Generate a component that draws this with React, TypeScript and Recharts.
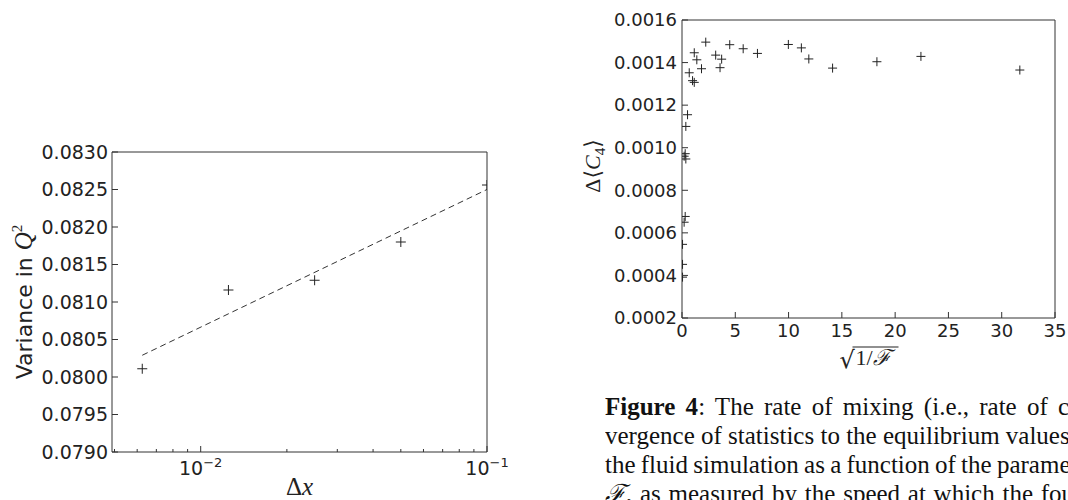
import type { ReactNode } from "react";
import { Scatter, ScatterChart, XAxis, YAxis } from "recharts";

/**
 * Two matplotlib-style panels side by side:
 * - left: variance in Q^2 against grid spacing (log x) with a dashed fit
 * - right: mixing rate against sqrt(1/F), plus the cropped Figure 4 caption
 * Frames are built from mirrored axes so all four sides get inward ticks.
 * Axes are 1px thick (Recharts skips axes of zero size).
 */

// ---- left panel ----
const gridSpacing = [0.00625, 0.0125, 0.025, 0.05, 0.1];
const varianceQ2 = [0.08011, 0.08116, 0.08129, 0.0818, 0.08256];
const fitSpacing = [0.00625, 0.1];
const fitVariance = [0.08029, 0.0825];
const spacingMajorTicks = [0.01, 0.1];
const spacingMinorTicks = [
  0.005, 0.006, 0.007, 0.008, 0.009, 0.02, 0.03, 0.04, 0.05, 0.06, 0.07, 0.08,
  0.09,
];
const varianceTicks = [
  0.079, 0.0795, 0.08, 0.0805, 0.081, 0.0815, 0.082, 0.0825, 0.083,
];

// ---- right panel ----
const sqrtInvF = [
  0.05, 0.05, 0.05, 0.2, 0.3, 0.2, 0.3, 0.36, 0.36, 0.52, 0.68, 0.99, 1.15,
  1.15, 1.39, 1.83, 2.23, 3.16, 3.57, 3.72, 4.48, 5.74, 7.08, 9.98, 11.2, 11.9,
  14.13, 18.29, 22.42, 31.7,
];
const mixingRate = [
  0.000392, 0.000452, 0.000546, 0.00065, 0.000677, 0.00096, 0.000972,
  0.000947, 0.0011, 0.001155, 0.001352, 0.001315, 0.001307, 0.001446,
  0.001413, 0.001371, 0.001496, 0.001435, 0.001376, 0.001416, 0.001484,
  0.001465, 0.001443, 0.001485, 0.001469, 0.001417, 0.001374, 0.001404,
  0.001429, 0.001365,
];
const sqrtInvFTicks = [0, 5, 10, 15, 20, 25, 30, 35];
const mixingRateTicks = [
  0.0002, 0.0004, 0.0006, 0.0008, 0.001, 0.0012, 0.0014, 0.0016,
];

const varianceData = gridSpacing.map((x, i) => ({ x, y: varianceQ2[i] }));
const fitData = fitSpacing.map((x, i) => ({ x, y: fitVariance[i] }));
const mixingData = sqrtInvF.map((x, i) => ({ x, y: mixingRate[i] }));
const spacingTicks = [...spacingMinorTicks, ...spacingMajorTicks].sort(
  (a, b) => a - b
);

const SANS = "'DejaVu Sans', sans-serif";
const SERIF = "'Liberation Serif', 'DejaVu Serif', serif";
const INK = "#222";
const SPINE = "#333";
const MAJOR = 6;
const MINOR = 3;

type TickProps = { x: number; y: number; payload: { value: number } };
type Side = "bottom" | "top" | "left" | "right";

// inward tick mark, optional label placed outside the frame
function tick(
  side: Side,
  len: (v: number) => number,
  label?: (x: number, y: number, v: number) => ReactNode
) {
  return ({ x, y, payload }: TickProps) => {
    const l = len(payload.value);
    const [x2, y2] =
      side === "bottom"
        ? [x, y - l]
        : side === "top"
        ? [x, y + l]
        : side === "left"
        ? [x + l, y]
        : [x - l, y];
    return (
      <g>
        <line x1={x} y1={y} x2={x2} y2={y2} stroke={SPINE} strokeWidth={1} />
        {label ? label(x, y, payload.value) : null}
      </g>
    );
  };
}

const isMajorSpacing = (v: number) => spacingMajorTicks.includes(v);
const spacingLen = (v: number) => (isMajorSpacing(v) ? MAJOR : MINOR);

const powerLabel = (x: number, y: number, v: number) =>
  isMajorSpacing(v) ? (
    <text x={x} y={y + 23} textAnchor="middle" fontFamily={SANS} fontSize={19} fill={INK}>
      10
      <tspan fontSize={13} dy={-8}>
        {"\u2212" + Math.abs(Math.round(Math.log10(v)))}
      </tspan>
    </text>
  ) : null;

const leftValueLabel = (x: number, y: number, v: number) => (
  <text x={x - 4} y={y} dy="0.35em" textAnchor="end" fontFamily={SANS} fontSize={19} fill={INK}>
    {v.toFixed(4)}
  </text>
);

const rightValueLabel = (x: number, y: number, v: number) => (
  <text x={x - 5} y={y} dy="0.35em" textAnchor="end" fontFamily={SANS} fontSize={18} fill={INK}>
    {v.toFixed(4)}
  </text>
);

const rightXLabel = (x: number, y: number, v: number) => (
  <text x={x} y={y + 19} textAnchor="middle" fontFamily={SANS} fontSize={18} fill={INK}>
    {v}
  </text>
);

const plus = (r: number) => (p: any) => (
  <path
    d={`M${p.cx - r},${p.cy}H${p.cx + r}M${p.cx},${p.cy - r}V${p.cy + r}`}
    stroke={INK}
    strokeWidth={1}
    fill="none"
  />
);

const DxLabel = ({ viewBox }: any) => (
  <text
    x={viewBox.x + viewBox.width / 2}
    y={viewBox.y + 43}
    textAnchor="middle"
    fontFamily={SERIF}
    fontSize={25}
    fill={INK}
  >
    Δ<tspan fontStyle="italic">x</tspan>
  </text>
);

const VarianceLabel = ({ viewBox }: any) => {
  const bx = viewBox.x + viewBox.width - 80;
  const cy = viewBox.y + viewBox.height / 2;
  return (
    <text
      transform={`rotate(-90 ${bx} ${cy})`}
      x={bx}
      y={cy}
      textAnchor="middle"
      fontFamily={SANS}
      fontSize={22}
      fill={INK}
    >
      {"Variance in "}
      <tspan fontFamily={SERIF} fontStyle="italic" fontSize={25}>
        Q
      </tspan>
      <tspan fontFamily={SERIF} fontSize={15} dy={-10}>
        2
      </tspan>
    </text>
  );
};

const RootLabel = ({ viewBox }: any) => {
  const cx = viewBox.x + viewBox.width / 2;
  const base = viewBox.y + 47;
  return (
    <g fill={INK}>
      <text x={cx - 29} y={base + 3} fontFamily={SANS} fontSize={24}>
        √
      </text>
      <line x1={cx - 16} x2={cx + 30} y1={base - 18} y2={base - 18} stroke={INK} strokeWidth={1.2} />
      <text x={cx - 13} y={base} fontFamily={SERIF} fontSize={22}>
        1/<tspan fontStyle="italic">ℱ</tspan>
      </text>
    </g>
  );
};

const RateLabel = ({ viewBox }: any) => {
  const bx = viewBox.x + viewBox.width - 82;
  const cy = viewBox.y + viewBox.height / 2 - 3;
  return (
    <text
      transform={`rotate(-90 ${bx} ${cy})`}
      x={bx}
      y={cy}
      textAnchor="middle"
      fontFamily={SERIF}
      fontSize={22}
      fill={INK}
    >
      Δ⟨<tspan fontStyle="italic">C</tspan>
      <tspan fontSize={15} dy={5}>
        4
      </tspan>
      <tspan dy={-5}>⟩</tspan>
    </text>
  );
};

const frameAxis = {
  interval: 0 as const,
  tickSize: 0,
  tickMargin: 0,
  tickLine: false,
  axisLine: { stroke: SPINE },
};

function VariancePanel() {
  return (
    <ScatterChart
      width={530}
      height={500}
      margin={{ top: 151, right: 42, bottom: 47, left: 111 }}
    >
      <XAxis
        {...frameAxis}
        dataKey="x"
        type="number"
        scale="log"
        domain={[0.0049, 0.1]}
        allowDataOverflow
        ticks={spacingTicks}
        height={1}
        tick={tick("bottom", spacingLen, powerLabel)}
        label={<DxLabel />}
      />
      <XAxis
        {...frameAxis}
        xAxisId="top"
        orientation="top"
        type="number"
        scale="log"
        domain={[0.0049, 0.1]}
        allowDataOverflow
        ticks={spacingTicks}
        height={1}
        tick={tick("top", spacingLen)}
      />
      <YAxis
        {...frameAxis}
        dataKey="y"
        type="number"
        domain={[0.079, 0.083]}
        allowDataOverflow
        ticks={varianceTicks}
        width={1}
        tick={tick("left", () => MAJOR, leftValueLabel)}
        label={<VarianceLabel />}
      />
      <YAxis
        {...frameAxis}
        yAxisId="right"
        orientation="right"
        type="number"
        domain={[0.079, 0.083]}
        ticks={varianceTicks}
        width={1}
        tick={tick("right", () => MAJOR)}
      />
      <Scatter
        data={fitData}
        line={{ stroke: SPINE, strokeWidth: 1, strokeDasharray: "6 4" }}
        lineType="joint"
        shape={() => <g />}
        isAnimationActive={false}
      />
      <Scatter data={varianceData} shape={plus(5)} isAnimationActive={false} />
    </ScatterChart>
  );
}

function MixingPanel() {
  return (
    <ScatterChart
      width={538}
      height={392}
      margin={{ top: 19, right: 12, bottom: 73, left: 151 }}
    >
      <XAxis
        {...frameAxis}
        dataKey="x"
        type="number"
        domain={[0, 35]}
        allowDataOverflow
        ticks={sqrtInvFTicks}
        height={1}
        tick={tick("bottom", () => MAJOR, rightXLabel)}
        label={<RootLabel />}
      />
      <XAxis
        {...frameAxis}
        xAxisId="top"
        orientation="top"
        type="number"
        domain={[0, 35]}
        ticks={sqrtInvFTicks}
        height={1}
        tick={tick("top", () => MAJOR)}
      />
      <YAxis
        {...frameAxis}
        dataKey="y"
        type="number"
        domain={[0.0002, 0.0016]}
        allowDataOverflow
        ticks={mixingRateTicks}
        width={1}
        tick={tick("left", () => MAJOR, rightValueLabel)}
        label={<RateLabel />}
      />
      <YAxis
        {...frameAxis}
        yAxisId="right"
        orientation="right"
        type="number"
        domain={[0.0002, 0.0016]}
        ticks={mixingRateTicks}
        width={1}
        tick={tick("right", () => MAJOR)}
      />
      <Scatter data={mixingData} shape={plus(4.5)} isAnimationActive={false} />
    </ScatterChart>
  );
}

const CAPTION_LEFT = 605;
const CAPTION_TOP = 392;

export default function App() {
  return (
    <div
      style={{
        position: "absolute",
        left: 0,
        top: 0,
        width: 1068,
        height: 500,
        background: "#fff",
        overflow: "hidden",
      }}
    >
      <div style={{ position: "absolute", left: 0, top: 0 }}>
        <VariancePanel />
      </div>
      <div style={{ position: "absolute", left: 530, top: 0 }}>
        <MixingPanel />
      </div>
      <div
        style={{
          position: "absolute",
          left: CAPTION_LEFT,
          top: CAPTION_TOP,
          width: 1068 - CAPTION_LEFT,
          height: 500 - CAPTION_TOP,
          overflow: "hidden",
          whiteSpace: "nowrap",
          fontFamily: SERIF,
          fontSize: 25,
          lineHeight: "29px",
          color: "#111",
        }}
      >
        <div style={{ wordSpacing: 4 }}>
          <b>Figure 4</b>: The rate of mixing (i.e., rate of con-
        </div>
        <div>vergence of statistics to the equilibrium values of</div>
        <div style={{ wordSpacing: -1 }}>
          the fluid simulation as a function of the parameter
        </div>
        <div style={{ wordSpacing: 1.5 }}>
          <i>ℱ</i>, as measured by the speed at which the four
        </div>
      </div>
    </div>
  );
}
